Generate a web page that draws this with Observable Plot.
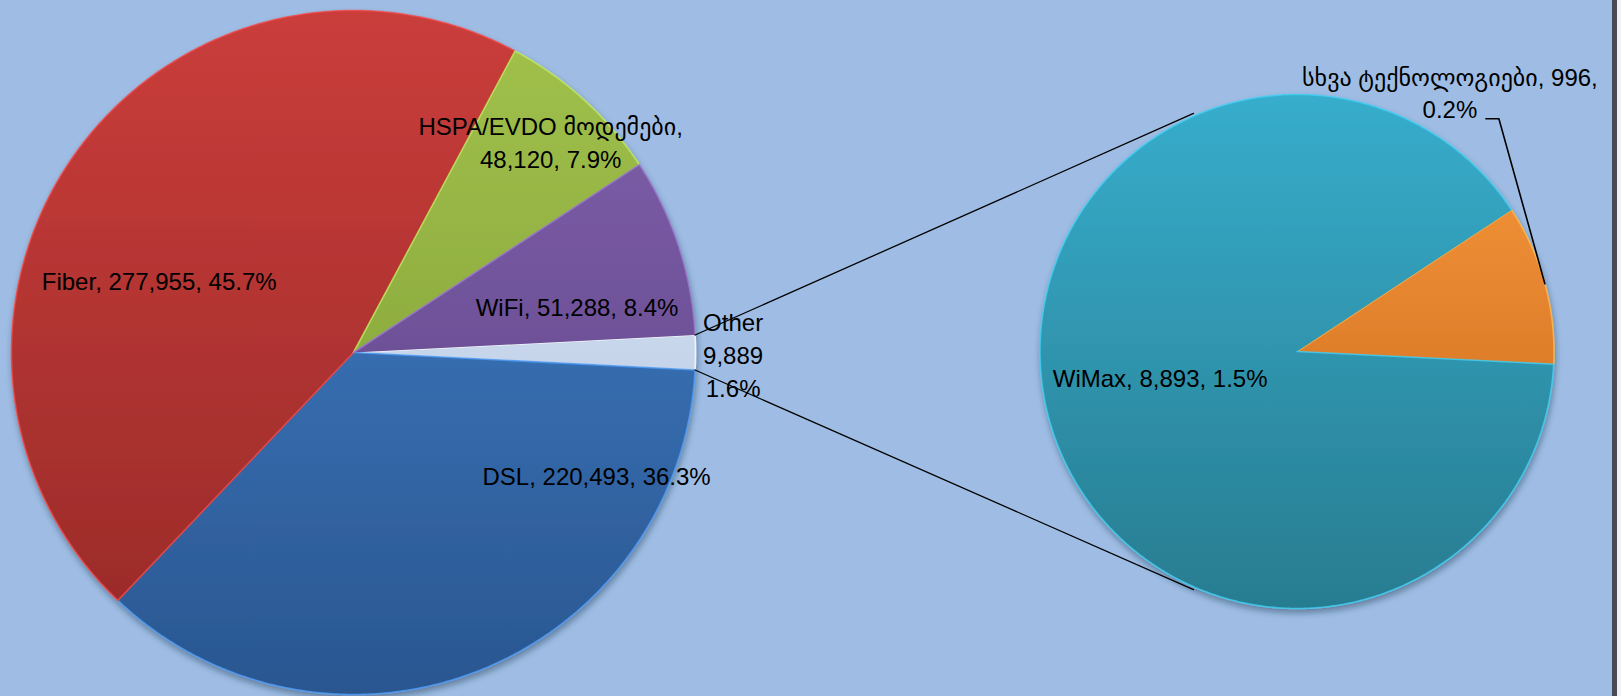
<!DOCTYPE html>
<html><head><meta charset="utf-8">
<script src="https://cdn.jsdelivr.net/npm/d3@7"></script>
<script src="https://cdn.jsdelivr.net/npm/@observablehq/plot@0.6"></script>
<style>
html,body{margin:0;padding:0;background:#f2f2f2;}
#frame{width:1612px;height:696px;background:#9fbde4;border-right:5px solid #474c54;overflow:hidden;}
#frame svg{display:block;}
</style></head><body><div id="frame"></div>
<script>
// ---- data ----
const mainCategories = ["Other", "DSL", "Fiber", "HSPA/EVDO მოდემები", "WiFi"];
const mainValues = [9889, 220493, 277955, 48120, 51288];
const subCategories = ["სხვა ტექნოლოგიები", "WiMax"];
const subValues = [996, 8893];

// ---- layout / style ----
const W = 1612, H = 696;
const mainPie = {cx: 353, cy: 352, r: 342};
const subPie = {cx: 1296.5, cy: 351, r: 257};
const mainColors = [["#e4ecf7", "#a9bfdf"], ["#4384cf", "#2a5690"], ["#ca3d3b", "#952927"], ["#a2c24c", "#7a9834"], ["#8264ae", "#583d80"]];
const subColors = [["#f99a3c", "#c6641b"], ["#37adcc", "#287c90"]];
const mainLabelPlace = [
  {k: 1.11, dx: 0, dy: 1, breaks: "stack"},
  {k: 0.6, dx: 167, dy: -69},
  {k: 0.6, dx: -28, dy: 47},
  {k: 0.85, dx: 1, dy: 3, breaks: "twoName"},
  {k: 0.7, dx: -4, dy: 27}
];
const subLabelPlace = [
  {k: 1, dx: -95, dy: -192, breaks: "twoValue", leader: true},
  {k: 0.54, dx: -3, dy: -12}
];
const subMidDeg = 74.7;     // orientation of the small slice in the second pie (clockwise from 12 o'clock)
const connectorDeg = 23.5;  // where the connector lines meet the second pie (degrees off its vertical axis, left side)
const total = d3.sum(mainValues);
const fmtN = d3.format(","), fmtP = d3.format(".1%");
const rad = d => d * Math.PI / 180;

function makeSlices(cats, vals, startAngle, pie, colors, prefix) {
  const arcs = d3.pie().sort(null).startAngle(startAngle).endAngle(startAngle + 2 * Math.PI)(vals);
  return arcs.map((a, i) => ({
    id: prefix + i, name: cats[i], value: vals[i], start: a.startAngle, end: a.endAngle,
    mid: (a.startAngle + a.endAngle) / 2, pie, colors: colors[i]
  }));
}
// angle a: clockwise from 12 o'clock
const pt = (pie, a, k = 1) => ({x: pie.cx + pie.r * k * Math.sin(a), y: pie.cy - pie.r * k * Math.cos(a)});

const fOther = mainValues[0] / total;
const mainSlices = makeSlices(mainCategories, mainValues, Math.PI / 2 - fOther * Math.PI, mainPie, mainColors, "m");
const subTotal = d3.sum(subValues);
const subSlices = makeSlices(subCategories, subValues, rad(subMidDeg) - (subValues[0] / subTotal) * Math.PI, subPie, subColors, "s");
const allSlices = [...mainSlices, ...subSlices];

// polygon vertices for every slice
const polys = [];
for (const s of allSlices) {
  const fill = `url(#grad-${s.id})`, edge = d3.color(s.colors[0]).brighter(0.5).formatHex();
  polys.push({id: s.id, ...pt(s.pie, 0, 0), fill, edge});
  const n = Math.max(2, Math.ceil((s.end - s.start) / (Math.PI / 360)));
  for (let j = 0; j <= n; j++) {
    const a = s.start + (s.end - s.start) * j / n;
    polys.push({id: s.id, ...pt(s.pie, a), fill, edge});
  }
}

// connector lines from the "Other" wedge to the second pie
const other = mainSlices[0];
const connectors = [
  {id: "c1", ...pt(mainPie, other.start)}, {id: "c1", ...pt(subPie, rad(360 - connectorDeg), 1.01)},
  {id: "c2", ...pt(mainPie, other.end)},   {id: "c2", ...pt(subPie, rad(180 + connectorDeg), 1.01)}
];

// labels
function labelText(name, value, mode) {
  const v = fmtN(value), p = fmtP(value / total);
  if (mode === "stack") return `${name}\n${v}\n${p}`;
  if (mode === "twoName") return `${name},\n${v}, ${p}`;
  if (mode === "twoValue") return `${name}, ${v},\n${p}`;
  return `${name}, ${v}, ${p}`;
}
const labels = [];
const leaders = [];
function addLabels(slices, places) {
  slices.forEach((s, i) => {
    const pl = places[i];
    const base = pt(s.pie, s.mid, pl.k);
    const L = {x: base.x + pl.dx, y: base.y + pl.dy, text: labelText(s.name, s.value, pl.breaks)};
    labels.push(L);
    if (pl.leader) {
      leaders.push({id: s.id, ...pt(s.pie, s.mid, 1)});
      leaders.push({id: s.id, x: L.x + 49, y: L.y + 27});
      leaders.push({id: s.id, x: L.x + 36, y: L.y + 27});
    }
  });
}
addLabels(mainSlices, mainLabelPlace);
addLabels(subSlices, subLabelPlace);

const plot = Plot.plot({
  width: W, height: H, margin: 0,
  x: {domain: [0, W], range: [0, W], axis: null},
  y: {domain: [0, H], range: [0, H], axis: null},
  color: {type: "identity"},
  style: {background: "transparent", fontFamily: "'Liberation Sans', Arial, 'DejaVu Sans', sans-serif"},
  marks: [
    Plot.line(polys, {x: "x", y: "y", z: "id", fill: "fill", stroke: "edge", strokeWidth: 1.6, strokeOpacity: 0.8, curve: "linear"}),
    Plot.line(connectors, {x: "x", y: "y", z: "id", stroke: "#000", strokeWidth: 1.3}),
    Plot.line(leaders, {x: "x", y: "y", z: "id", stroke: "#000", strokeWidth: 1.6}),
    Plot.text(labels, {x: "x", y: "y", text: "text", fontSize: 24, lineHeight: 1.36, fill: "#000", textAnchor: "middle"})
  ]
});

// gradients + shadow
const svg = d3.select(plot);
const defs = svg.insert("defs", ":first-child");
for (const s of allSlices) {
  const g = defs.append("linearGradient").attr("id", `grad-${s.id}`).attr("gradientUnits", "userSpaceOnUse")
    .attr("x1", 0).attr("x2", 0).attr("y1", s.pie.cy - s.pie.r).attr("y2", s.pie.cy + s.pie.r);
  g.append("stop").attr("offset", "0").attr("stop-color", s.colors[0]);
  g.append("stop").attr("offset", "1").attr("stop-color", s.colors[1]);
}
const f = defs.append("filter").attr("id", "shadow").attr("x", "-10%").attr("y", "-10%").attr("width", "120%").attr("height", "120%");
f.append("feDropShadow").attr("dx", 1).attr("dy", 4).attr("stdDeviation", 3).attr("flood-color", "#1d3048").attr("flood-opacity", 0.45);
const firstPath = svg.selectAll("path").filter(function() { return (this.getAttribute("fill") || "").startsWith("url("); }).node();
if (firstPath) d3.select(firstPath.parentNode).attr("filter", "url(#shadow)");
document.getElementById("frame").appendChild(plot);
</script>
</body></html>
